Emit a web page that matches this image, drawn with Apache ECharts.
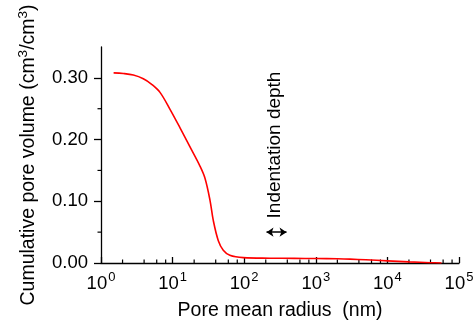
<!DOCTYPE html>
<html>
<head>
<meta charset="utf-8">
<script src="https://cdn.jsdelivr.net/npm/echarts@6/dist/echarts.min.js"></script>
<style>html,body{margin:0;padding:0;background:#fff}#c{width:474px;height:323px}</style>
</head>
<body>
<div id="c"></div>
<script>
// Pore mean radius (nm) and cumulative pore volume (cm3/cm3)
var radius = [1.5, 2.05, 2.83, 3.9, 5.1, 6.67, 9.2, 12.7, 17.5, 24.1, 28.4, 33.3, 37, 43.5, 51, 63, 97, 230, 500, 1000, 2000, 3000, 5000, 10000, 20000, 40000, 57000];
var volume = [0.308, 0.307, 0.3045, 0.2985, 0.2895, 0.2765, 0.249, 0.219, 0.188, 0.157, 0.137, 0.1016, 0.069, 0.0361, 0.0208, 0.0126, 0.0087, 0.0078, 0.0075, 0.0072, 0.0068, 0.0063, 0.0052, 0.0035, 0.0018, 0.0005, 0];
var xMinorTicks = [2, 4, 6, 8, 20, 40, 60, 80, 200, 400, 600, 800, 2000, 4000, 6000, 8000, 20000, 40000, 60000, 80000];
var yMinorTicks = [0.05, 0.15, 0.25];
var arrowRange = [205, 390];
var arrowLevel = 0.05;
var annotation = 'Indentation depth';

var FONT = "'Liberation Sans', Arial, Helvetica, sans-serif";
var chart = echarts.init(document.getElementById('c'), null, {renderer: 'canvas'});

var data = radius.map(function (r, i) { return [r, volume[i]]; });

chart.setOption({
  animation: false,
  backgroundColor: '#fff',
  textStyle: {fontFamily: FONT, color: '#000'},
  grid: {left: 101, right: 15, top: 47, bottom: 60, containLabel: false, outerBoundsMode: 'none'},
  xAxis: {
    type: 'log', logBase: 10, min: 1, max: 100000,
    name: 'Pore mean radius  (nm)', nameLocation: 'middle', nameGap: 38,
    nameTextStyle: {fontSize: 19.5, fontFamily: FONT, color: '#000'},
    axisLine: {show: true, lineStyle: {color: '#000', width: 1.3}},
    axisTick: {show: true, inside: true, length: 6, lineStyle: {color: '#000', width: 1.3}},
    splitLine: {show: false},
    axisLabel: {
      margin: 8, color: '#000', fontFamily: FONT,
      formatter: function (v) { return '{b|10}{s|' + Math.round(Math.log10(v)) + '}'; },
      rich: {
        b: {fontSize: 18.5, fontFamily: FONT, color: '#000', lineHeight: 22, verticalAlign: 'bottom'},
        s: {fontSize: 13, fontFamily: FONT, color: '#000', lineHeight: 22, verticalAlign: 'top', padding: [0, 0, 0, 1]}
      }
    }
  },
  yAxis: {
    type: 'value', min: 0, max: 0.35, interval: 0.1,
    name: '{a|Cumulative pore volume (cm}{s|3}{a|/cm}{s|3}{a|)}',
    nameLocation: 'middle', nameGap: 62, nameRotate: 90,
    nameTextStyle: {
      rich: {
        a: {fontSize: 19.5, fontFamily: FONT, color: '#000', lineHeight: 23, verticalAlign: 'bottom'},
        s: {fontSize: 13.5, fontFamily: FONT, color: '#000', lineHeight: 23, verticalAlign: 'top'}
      }
    },
    axisLine: {show: true, lineStyle: {color: '#000', width: 1.3}},
    axisTick: {show: true, inside: false, length: 7, lineStyle: {color: '#000', width: 1.3}},
    splitLine: {show: false},
    axisLabel: {
      margin: 13, fontSize: 18.5, fontFamily: FONT, color: '#000', showMaxLabel: false,
      formatter: function (v) { return v.toFixed(2); }
    }
  },
  series: [
    {
      type: 'line', data: data, showSymbol: false, smooth: 0.35,
      lineStyle: {color: '#ff0000', width: 1.6}, z: 3,
      markLine: {
        silent: true, symbol: ['arrow', 'arrow'], symbolSize: [7, 7],
        lineStyle: {color: '#000', width: 1.5, type: 'solid'},
        label: {show: false},
        data: [[{coord: [arrowRange[0], arrowLevel]}, {coord: [arrowRange[1], arrowLevel]}]]
      }
    },
    {
      type: 'custom', silent: true, clip: false,
      data: xMinorTicks.map(function (v) { return [v, 0]; }),
      renderItem: function (params, api) {
        var p = api.coord([api.value(0), 0]);
        return {type: 'line', shape: {x1: p[0], y1: p[1], x2: p[0], y2: p[1] - 3.5},
          style: {stroke: '#000', lineWidth: 1.2}};
      }
    },
    {
      type: 'custom', silent: true, clip: false,
      data: yMinorTicks.map(function (v) { return [1, v]; }),
      renderItem: function (params, api) {
        var p = api.coord([1, api.value(1)]);
        return {type: 'line', shape: {x1: p[0], y1: p[1], x2: p[0] - 3.5, y2: p[1]},
          style: {stroke: '#000', lineWidth: 1.2}};
      }
    }
  ],
  graphic: [{
    type: 'text', x: 275, y: 145, rotation: Math.PI / 2,
    style: {text: annotation, fontSize: 19, fontFamily: FONT, fill: '#000', textAlign: 'center', textVerticalAlign: 'middle'}
  }]
});
</script>
</body>
</html>
